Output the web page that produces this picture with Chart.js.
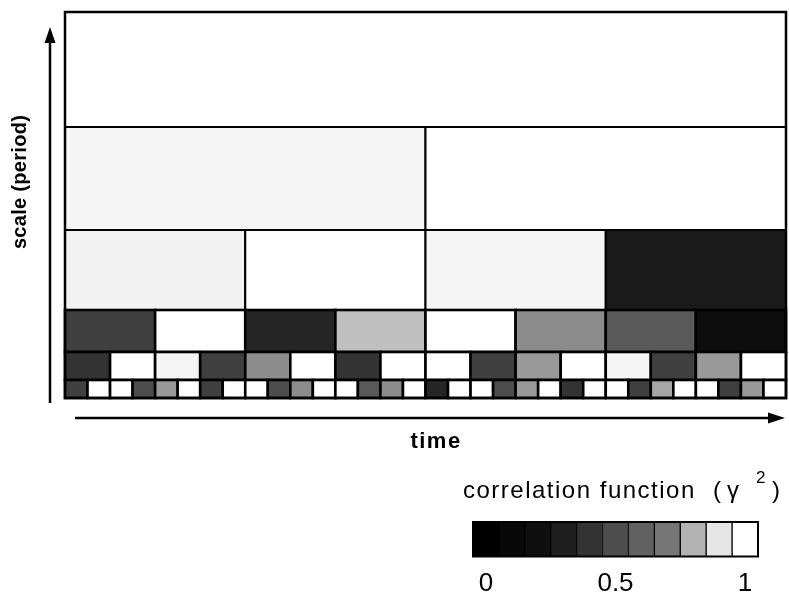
<!DOCTYPE html>
<html>
<head>
<meta charset="utf-8">
<script src="https://cdn.jsdelivr.net/npm/chart.js@4.4.1/dist/chart.umd.min.js"></script>
<style>
  html, body { margin: 0; padding: 0; background: #fff; }
  #wrap { position: relative; width: 789px; height: 596px; }
  canvas { position: absolute; }
</style>
</head>
<body>
<div id="wrap">
  <canvas id="tiles" width="789" height="596" style="left:0;top:0;width:789px;height:596px"></canvas>
  <canvas id="legend" width="349" height="126" style="left:440px;top:470px;width:349px;height:126px"></canvas>
</div>
<script>
// correlation (gamma^2) per tile, one array per scale level, largest period first
const level1 = [1.0];
const level2 = [0.96, 1.0];
const level3 = [0.95, 1.0, 0.96, 0.1];
const level4 = [0.25, 1.0, 0.15, 0.75, 1.0, 0.55, 0.35, 0.05];
const level5 = [0.2, 1.0, 0.96, 0.25, 0.55, 1.0, 0.2, 1.0,
                1.0, 0.25, 0.6, 1.0, 0.96, 0.25, 0.6, 1.0];
const level6 = [0.25, 1.0, 1.0, 0.3, 0.6, 1.0, 0.25, 1.0,
                1.0, 0.3, 0.55, 1.0, 1.0, 0.35, 0.55, 1.0,
                0.15, 1.0, 1.0, 0.3, 0.6, 1.0, 0.2, 1.0,
                1.0, 0.25, 0.65, 1.0, 1.0, 0.25, 0.6, 1.0];
const levels = [level1, level2, level3, level4, level5, level6];

// extent of each level along the scale axis, bottom (shortest period) to top
const scaleEdges = [0, 18, 46, 88, 168, 271, 386];

// colour bar
const barLabels = ['0', '', '', '', '', '0.5', '', '', '', '', '1'];
const barValues = [0, 0.03, 0.06, 0.12, 0.2, 0.3, 0.38, 0.46, 0.7, 0.9, 1.0];

const FONT = '"Liberation Sans", Arial, sans-serif';

function grey(v) {
  const g = Math.round(255 * v);
  return `rgb(${g}, ${g}, ${g})`;
}

const tilePlugin = {
  id: 'tiles',
  afterDatasetsDraw(chart) {
    const ctx = chart.ctx;
    const x = chart.scales.x;
    const y = chart.scales.y;
    ctx.save();
    levels.forEach((vals, li) => {
      const n = vals.length;
      const top = y.getPixelForValue(scaleEdges[levels.length - li]);
      const bottom = y.getPixelForValue(scaleEdges[levels.length - li - 1]);
      vals.forEach((v, i) => {
        const left = x.getPixelForValue(i / n);
        const right = x.getPixelForValue((i + 1) / n);
        ctx.fillStyle = grey(v);
        ctx.fillRect(left, top, right - left, bottom - top);
        ctx.strokeStyle = '#000';
        ctx.lineWidth = li < 3 ? 2 : 2.6;
        ctx.strokeRect(left, top, right - left, bottom - top);
      });
    });
    // outer frame
    const a = chart.chartArea;
    ctx.lineWidth = 2.5;
    ctx.strokeRect(a.left, a.top, a.right - a.left, a.bottom - a.top);

    // axis arrows
    ctx.fillStyle = '#000';
    ctx.lineWidth = 2.5;
    ctx.beginPath();
    ctx.moveTo(50, 403);
    ctx.lineTo(50, 40);
    ctx.stroke();
    ctx.beginPath();
    ctx.moveTo(44.5, 43);
    ctx.lineTo(50, 27);
    ctx.lineTo(55.5, 43);
    ctx.closePath();
    ctx.fill();

    ctx.beginPath();
    ctx.moveTo(75, 418);
    ctx.lineTo(770, 418);
    ctx.stroke();
    ctx.beginPath();
    ctx.moveTo(768, 412.5);
    ctx.lineTo(785, 418);
    ctx.lineTo(768, 423.5);
    ctx.closePath();
    ctx.fill();

    // axis titles
    ctx.font = 'bold 22px ' + FONT;
    ctx.letterSpacing = '1.5px';
    ctx.textAlign = 'center';
    ctx.textBaseline = 'alphabetic';
    ctx.fillText('time', 436, 448);
    ctx.font = 'bold 20px ' + FONT;
    ctx.letterSpacing = '0.3px';
    ctx.translate(26, 182);
    ctx.rotate(-Math.PI / 2);
    ctx.fillText('scale (period)', 0, 0);
    ctx.restore();
  }
};

new Chart(document.getElementById('tiles'), {
  type: 'scatter',
  data: { datasets: [{ data: [] }] },
  options: {
    responsive: false,
    maintainAspectRatio: false,
    animation: false,
    layout: { padding: { left: 65, top: 12, right: 3, bottom: 198 } },
    plugins: { legend: { display: false }, tooltip: { enabled: false } },
    scales: {
      x: { type: 'linear', min: 0, max: 1, display: false },
      y: { type: 'linear', min: 0, max: scaleEdges[scaleEdges.length - 1], display: false }
    }
  },
  plugins: [tilePlugin]
});

// colour bar heading with the raised exponent
const barTitlePlugin = {
  id: 'barTitle',
  afterDraw(chart) {
    const ctx = chart.ctx;
    ctx.save();
    ctx.fillStyle = '#000';
    ctx.textAlign = 'left';
    ctx.textBaseline = 'alphabetic';
    ctx.font = '24px ' + FONT;
    ctx.letterSpacing = '1.5px';
    ctx.fillText('correlation function', 23, 28);
    ctx.letterSpacing = '0px';
    ctx.fillText('(', 273, 28);
    ctx.fillText('\u03b3', 287, 28);
    ctx.fillText(')', 332, 28);
    ctx.font = '17px ' + FONT;
    ctx.fillText('2', 316, 13);
    // frame round the bar
    const a = chart.chartArea;
    ctx.strokeStyle = '#000';
    ctx.lineWidth = 2;
    ctx.strokeRect(a.left, a.top, a.right - a.left, a.bottom - a.top);
    ctx.restore();
  }
};

new Chart(document.getElementById('legend'), {
  type: 'bar',
  data: {
    labels: barLabels,
    datasets: [{
      data: barValues.map(() => 1),
      backgroundColor: barValues.map(grey),
      borderColor: '#000',
      borderWidth: 1,
      barPercentage: 1,
      categoryPercentage: 1
    }]
  },
  options: {
    responsive: false,
    maintainAspectRatio: false,
    animation: false,
    layout: { padding: { left: 33, right: 31, top: 52, bottom: 5 } },
    plugins: {
      legend: { display: false },
      tooltip: { enabled: false }
    },
    scales: {
      x: {
        grid: { display: false, drawTicks: false },
        border: { display: false },
        ticks: {
          autoSkip: false,
          maxRotation: 0,
          color: '#000',
          padding: 12,
          font: { family: FONT, size: 26 }
        }
      },
      y: { display: false, min: 0, max: 1 }
    }
  },
  plugins: [barTitlePlugin]
});
</script>
</body>
</html>
